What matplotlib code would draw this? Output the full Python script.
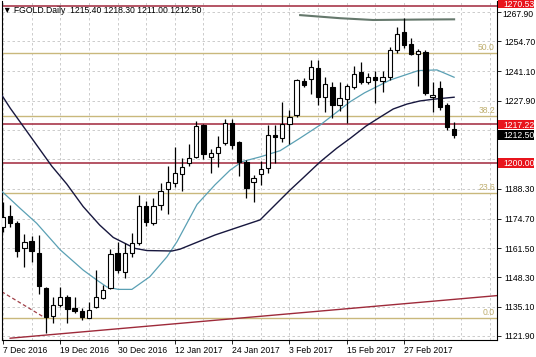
import matplotlib
matplotlib.use("Agg")
import matplotlib.pyplot as plt
import matplotlib.transforms as mtransforms
from matplotlib.patches import Rectangle
import numpy as np

plt.rcParams['font.family'] = ['Liberation Sans', 'DejaVu Sans']

# ---------------- data ----------------
opens = [1171.2, 1176.1, 1173.0, 1161.4, 1164.8, 1159.4, 1143.7, 1130.9, 1135.9, 1139.6,
         1134.5, 1133.2, 1130.1, 1135.1, 1139.2, 1143.4, 1159.4, 1150.9, 1159.4, 1163.9,
         1180.6, 1172.7, 1180.9, 1188.0, 1190.7, 1194.8, 1199.7, 1202.7, 1217.0, 1202.7,
         1204.2, 1209.0, 1218.0, 1209.1, 1200.2, 1191.4, 1194.8, 1197.5, 1212.5, 1211.0,
         1217.4, 1221.5, 1236.8, 1237.6, 1242.5, 1229.8, 1234.0, 1226.2, 1228.6, 1234.3,
         1241.0, 1236.5, 1238.8, 1236.7, 1238.8, 1250.6, 1258.8, 1253.6, 1249.0, 1250.0,
         1229.7, 1233.5, 1226.0, 1215.4]
highs = [1182.3, 1180.9, 1173.9, 1167.7, 1167.0, 1167.4, 1144.1, 1139.6, 1144.1, 1140.4,
         1139.6, 1134.4, 1137.4, 1151.6, 1144.9, 1161.0, 1164.4, 1163.9, 1168.4, 1185.4,
         1182.9, 1184.0, 1191.0, 1198.5, 1206.9, 1202.2, 1208.3, 1218.8, 1217.3, 1206.0,
         1212.0, 1219.6, 1219.6, 1209.8, 1201.2, 1194.5, 1200.9, 1217.0, 1217.0, 1227.5,
         1223.7, 1237.6, 1238.0, 1246.3, 1246.3, 1238.8, 1236.4, 1236.5, 1235.5, 1243.6,
         1245.4, 1240.4, 1241.5, 1241.3, 1252.1, 1261.3, 1265.4, 1256.1, 1251.3, 1250.8,
         1236.5, 1236.8, 1226.9, 1218.3]
lows = [1168.8, 1170.9, 1157.6, 1152.9, 1155.4, 1140.8, 1123.2, 1127.9, 1135.1, 1127.6,
        1132.1, 1129.1, 1129.9, 1134.4, 1138.4, 1142.9, 1150.4, 1147.9, 1157.6, 1162.9,
        1171.5, 1171.9, 1178.7, 1176.9, 1188.9, 1187.4, 1198.5, 1202.2, 1201.5, 1195.5,
        1197.9, 1208.0, 1206.0, 1194.0, 1184.0, 1182.4, 1189.9, 1195.5, 1200.0, 1209.5,
        1208.4, 1220.7, 1234.2, 1231.0, 1226.0, 1223.0, 1220.0, 1223.4, 1217.7, 1233.1,
        1235.5, 1235.5, 1226.8, 1231.9, 1237.3, 1249.3, 1251.9, 1248.5, 1234.6, 1230.5,
        1223.0, 1223.7, 1214.7, 1211.0]
closes = [1175.7, 1172.7, 1160.2, 1164.1, 1160.2, 1144.4, 1130.6, 1135.9, 1139.6, 1134.2,
          1133.2, 1130.6, 1133.6, 1139.6, 1142.6, 1158.8, 1151.6, 1159.4, 1163.9, 1180.6,
          1173.1, 1180.6, 1187.4, 1191.4, 1195.2, 1197.9, 1202.2, 1216.5, 1203.8, 1204.2,
          1207.2, 1218.0, 1208.0, 1200.3, 1188.5, 1193.0, 1197.0, 1212.5, 1211.7, 1217.4,
          1220.7, 1237.3, 1235.2, 1243.1, 1229.4, 1235.3, 1226.0, 1229.0, 1234.6, 1239.8,
          1236.5, 1238.8, 1237.3, 1238.8, 1250.8, 1257.9, 1253.0, 1249.0, 1250.4, 1231.3,
          1230.3, 1225.2, 1216.1, 1212.5]

# fast moving average (light blue) read at bar positions
ma_fast_x = [-0.1, 2.4, 4.7, 8.0, 11.2, 13.1, 14.5, 16.1, 18.0, 20.5, 22.9, 24.3, 27.1,
             29.6, 31.7, 33.4, 35.9, 38.7, 41.5, 44.3, 46.5, 48.5, 50.5, 54.1, 58.0, 60.6, 63.0]
ma_fast_y = [1186.9, 1179.4, 1172.7, 1160.7, 1151.6, 1147.1, 1144.0, 1142.9, 1142.9, 1148.6,
             1157.6, 1164.4, 1181.2, 1190.0, 1196.6, 1200.5, 1202.6, 1205.4, 1211.1, 1217.0,
             1222.5, 1227.5, 1231.5, 1237.3, 1241.5, 1241.8, 1238.5]
# slow moving average (navy)
ma_slow_x = [-0.1, 1.0, 2.4, 3.8, 5.2, 6.8, 8.9, 11.2, 13.5, 15.4, 17.0, 18.4, 20.1, 23.6,
             24.7, 27.3, 29.6, 33.1, 35.9, 37.3, 40.1, 41.9, 44.3, 46.6, 48.5, 50.7, 52.7,
             54.5, 56.4, 58.2, 60.1, 63.0]
ma_slow_y = [1230.1, 1224.6, 1218.3, 1212.0, 1205.7, 1198.5, 1190.4, 1180.2, 1171.9, 1166.3,
             1163.7, 1161.4, 1160.4, 1160.2, 1161.0, 1164.4, 1167.4, 1171.2, 1174.2, 1178.7,
             1187.7, 1193.1, 1200.4, 1206.5, 1211.0, 1216.5, 1220.6, 1224.2, 1226.4, 1227.8,
             1228.6, 1229.5]
# long moving average (grey-green)
ma_long_x = [41.5, 47.1, 51.7, 58.2, 63.0]
ma_long_y = [1266.5, 1265.1, 1264.3, 1264.5, 1264.6]

red_levels = [1270.53, 1217.22, 1200.00]
fib_labels = ['0.0', '23.6', '38.2', '50.0']
fib_levels = [1129.9, 1186.3, 1221.1, 1249.3]

trend_x = [1.0, 69.0]
trend_y = [1120.9, 1140.1]
dash_x = [-0.2, 5.6]
dash_y = [1141.9, 1130.6]

ytick_vals = [1267.90, 1254.70, 1241.10, 1227.90, 1214.70, 1201.50, 1188.30, 1174.70,
              1161.50, 1148.30, 1135.10, 1121.90]
ytick_show = [True, True, True, True, False, False, True, True, True, True, True, True]
date_pos = [0, 8, 16, 24, 32, 40, 48, 56]
date_labels = ['7 Dec 2016', '19 Dec 2016', '30 Dec 2016', '12 Jan 2017', '24 Jan 2017',
               '3 Feb 2017', '15 Feb 2017', '27 Feb 2017']
title = '\u25bc FGOLD.Daily  1215.40 1218.30 1211.00 1212.50'

# ---------------- figure ----------------
W, H = 536, 357
fig = plt.figure(figsize=(W / 100, H / 100), dpi=100)
fig.patch.set_facecolor('white')
ax = fig.add_axes([2 / W, 1 - 340 / H, 495 / W, 339 / H])
ax.set_xlim(-0.14, 68.99)
ax.set_ylim(1120.09, 1272.86)

fs = 6.2
gridc = '#c4c4c4'
# grid
for gx in range(0, 69, 4):
    ax.axvline(gx, color=gridc, lw=0.6, ls=(0, (3, 3)), zorder=0)
for gy in ytick_vals:
    ax.axhline(gy, color=gridc, lw=0.6, ls=(0, (3, 3)), zorder=0)

# horizontal levels
for lv in fib_levels:
    ax.axhline(lv, color='#c9b87c', lw=1.0, zorder=1)
for lab, lv in zip(fib_labels, fib_levels):
    ax.text(68.7, lv + 0.4, lab, color='#bfae6e', fontsize=fs, ha='right', va='bottom', zorder=2)
for lv in red_levels:
    ax.axhline(lv, color='#a8374a', lw=1.2, zorder=1)

# trend lines
ax.plot(trend_x, trend_y, color='#9e2a3a', lw=1.0, zorder=2)
ax.plot(dash_x, dash_y, color='#a04048', lw=0.9, ls=(0, (3, 2)), zorder=2)

# moving averages
ax.plot(ma_long_x, ma_long_y, color='#65786c', lw=1.5, zorder=3)
ax.plot(ma_fast_x, ma_fast_y, color='#5aa0b4', lw=0.9, zorder=3)
ax.plot(ma_slow_x, ma_slow_y, color='#17173e', lw=1.0, zorder=3)

# candles
xs = np.arange(len(opens))
o = np.array(opens); c = np.array(closes); h = np.array(highs); l = np.array(lows)
ax.vlines(xs, l, h, color='black', lw=0.9, zorder=4)
bull = c >= o
bottoms = np.minimum(o, c)
heights = np.maximum(np.abs(c - o), 0.35)
ax.bar(xs[bull], heights[bull], bottom=bottoms[bull], width=0.6,
       facecolor='white', edgecolor='black', linewidth=0.8, zorder=5)
ax.bar(xs[~bull], heights[~bull], bottom=bottoms[~bull], width=0.6,
       facecolor='black', edgecolor='black', linewidth=0.8, zorder=5)

# axes ticks
ax.yaxis.tick_right()
ax.set_yticks(ytick_vals)
# first label is drawn separately (slightly lower, under the top price box)
ax.set_yticklabels([f'{v:.2f}' if (s and i > 0) else ''
                    for i, (v, s) in enumerate(zip(ytick_vals, ytick_show))], fontsize=fs)
ax.tick_params(axis='y', length=3, width=0.6, pad=2, colors='black')
ax.set_xticks(date_pos)
ax.set_xticklabels(date_labels, fontsize=fs, ha='left')
ax.tick_params(axis='x', length=3, width=0.6, pad=1.5)
for lbl in ax.get_xticklabels():
    lbl.set_horizontalalignment('left')
for sp in ax.spines.values():
    sp.set_color('black'); sp.set_linewidth(0.8)
ax.spines['top'].set_visible(False)

trans = mtransforms.blended_transform_factory(ax.transAxes, ax.transData)
off = mtransforms.ScaledTranslation(0, -1.3 / 72, fig.dpi_scale_trans)
ax.text(1.0 + 5.6 / 495, ytick_vals[0], f'{ytick_vals[0]:.2f}', transform=trans + off,
        fontsize=fs, va='center_baseline', ha='left', color='black', clip_on=False)

# price boxes on right axis
box_h = 4.4
box_w = 36 / 495
for lv, col in [(closes[-1], 'black')] + [(lv, '#e8141c') for lv in red_levels]:
    if lv > 1269:  # top box sits against the upper edge of the chart
        lo, hi, yc = 1269.5, 1273.4, 1271.9
    else:
        lo, hi, yc = lv - box_h / 2, lv + box_h / 2, lv
    ax.add_patch(Rectangle((1.002, lo), box_w, hi - lo, transform=trans,
                           facecolor=col, edgecolor='none', clip_on=False, zorder=10))
    ax.text(1.013, yc, f'{lv:.2f}', transform=trans, color='white', fontsize=fs,
            va='center_baseline', ha='left', zorder=11, clip_on=False)

ax.text(0.003, 0.985, title, transform=ax.transAxes, fontsize=fs, va='top', ha='left',
        color='black', zorder=12)

fig.savefig('out.png', dpi=100)
